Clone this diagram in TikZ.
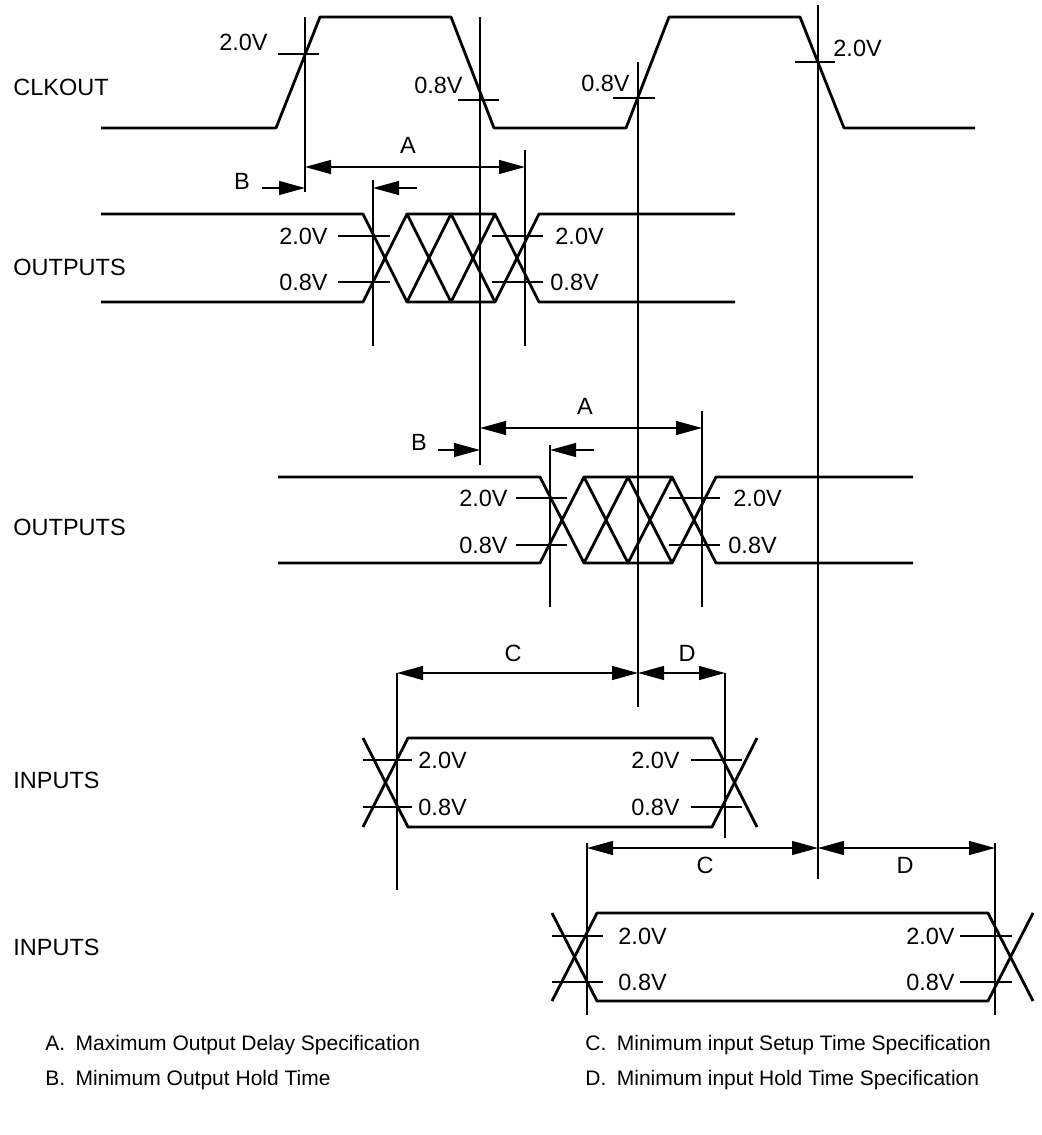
\documentclass[tikz,border=0pt]{standalone}
\usepackage{fontspec}
\setmainfont{Liberation Sans}
\usetikzlibrary{arrows.meta}
\begin{document}
\begin{tikzpicture}[x=.5pt, y=-.5pt, line join=round, line cap=butt,
  >={Triangle[length=13pt,width=7pt]},
  font=\fontsize{11.75}{14}\selectfont,
  wave/.style={line width=1.4pt},
  guide/.style={line width=.6pt},
  dimline/.style={guide,<->},
  lbl/.style={inner sep=0pt},
  legend/.style={inner sep=0pt, anchor=west, font=\fontsize{10.5}{13}\selectfont}]
\useasboundingbox (0,0) rectangle (1042,1135);
% signal names
\node[lbl, anchor=west] (clk) at (13,87) {CLKOUT};
\node[lbl, anchor=west] (outa) at (13,267) {OUTPUTS};
\node[lbl, anchor=west] (outb) at (13,527) {OUTPUTS};
\node[lbl, anchor=west] (ina) at (13,780) {INPUTS};
\node[lbl, anchor=west] (inb) at (13,947) {INPUTS};
% clock
\draw[wave] (101,128) -- (276,128) -- (320,17) -- (451,17) -- (494,128) -- (626,128)
  -- (669,17) -- (800,17) -- (844,128) -- (975,128);
% output buses
\foreach \l/\s/\r/\tp/\bt in {101/363/735/214/302, 278/540/913/477/563}{
  \draw[wave] (\l,\tp) -- (\s,\tp) -- ({\s+44},\bt) -- ({\s+132},\bt) -- ({\s+176},\tp) -- (\r,\tp);
  \draw[wave] (\l,\bt) -- (\s,\bt) -- ({\s+44},\tp) -- ({\s+132},\tp) -- ({\s+176},\bt) -- (\r,\bt);
  \draw[wave] ({\s+44},\tp) -- ({\s+88},\bt) -- ({\s+132},\tp);
  \draw[wave] ({\s+44},\bt) -- ({\s+88},\tp) -- ({\s+132},\bt);
}
% input windows
\foreach \l/\r/\tp/\bt in {363/757/738/827, 552/1033/913/1001}{
  \draw[wave] (\l,\bt) -- ({\l+45},\tp) -- ({\r-45},\tp) -- (\r,\bt);
  \draw[wave] (\l,\tp) -- ({\l+45},\bt) -- ({\r-45},\bt) -- (\r,\tp);
}
% reference lines
\foreach \x/\ya/\yb in {305/17/192, 480/17/465, 638/62/707, 818/5/879, 525/150/346, 373/180/346,
  550/445/607, 702/411/607, 397/673/890, 725/673/838, 587/843/1015, 995/843/1015}
  \draw[guide] (\x,\ya) -- (\x,\yb);
% level ticks
\foreach \xa/\xb/\y in {278/319/54, 458/499/100, 613/655/98, 795/835/62,
  338/390/236, 338/390/282, 492/543/236, 492/543/282,
  516/567/498, 516/567/545, 669/720/498, 669/720/545,
  363/412/760, 363/412/807, 691/742/760, 691/742/807,
  552/603/936, 552/603/982, 960/1012/936, 960/1012/982}
  \draw[guide] (\xa,\y) -- (\xb,\y);
% level labels
\node[lbl, anchor=east] (ca) at (268,42) {2.0V};
\node[lbl, anchor=east] (cb) at (463,85) {0.8V};
\node[lbl, anchor=east] (cc) at (630,83) {0.8V};
\node[lbl, anchor=west] (cd) at (833,48) {2.0V};
\node[lbl, anchor=east] (oa1) at (328,236) {2.0V};
\node[lbl, anchor=east] (oa2) at (328,282) {0.8V};
\node[lbl, anchor=west] (oa3) at (555,236) {2.0V};
\node[lbl, anchor=west] (oa4) at (550,282) {0.8V};
\node[lbl, anchor=east] (ob1) at (508,498) {2.0V};
\node[lbl, anchor=east] (ob2) at (508,545) {0.8V};
\node[lbl, anchor=west] (ob3) at (733,498) {2.0V};
\node[lbl, anchor=west] (ob4) at (728,545) {0.8V};
\node[lbl, anchor=west] (ia1) at (418,760) {2.0V};
\node[lbl, anchor=west] (ia2) at (418,807) {0.8V};
\node[lbl, anchor=east] (ia3) at (680,760) {2.0V};
\node[lbl, anchor=east] (ia4) at (680,807) {0.8V};
\node[lbl, anchor=west] (ib1) at (618,936) {2.0V};
\node[lbl, anchor=west] (ib2) at (618,982) {0.8V};
\node[lbl, anchor=east] (ib3) at (955,936) {2.0V};
\node[lbl, anchor=east] (ib4) at (955,982) {0.8V};
% timing arrows
\draw[dimline] (305,167) -- (525,167);
\draw[guide,->] (262,188) -- (305,188);
\draw[guide,->] (417,188) -- (373,188);
\draw[dimline] (480,428) -- (702,428);
\draw[guide,->] (438,450) -- (480,450);
\draw[guide,->] (594,450) -- (550,450);
\draw[dimline] (397,673) -- (638,673);
\draw[dimline] (638,673) -- (725,673);
\draw[dimline] (587,848) -- (818,848);
\draw[dimline] (818,848) -- (995,848);
\node[lbl] (ta) at (408,145) {A};
\node[lbl] (tb) at (242,181) {B};
\node[lbl] (tc) at (585,406) {A};
\node[lbl] (td) at (419,442) {B};
\node[lbl] (te) at (513,653) {C};
\node[lbl] (tf) at (687,653) {D};
\node[lbl] (tg) at (705,865) {C};
\node[lbl] (th) at (905,865) {D};
% legend
\node[legend] (lga) at (45,1045) {A.\enspace Maximum Output Delay Specification};
\node[legend] (lgb) at (45,1080) {B.\enspace Minimum Output Hold Time};
\node[legend] (lgc) at (585,1045) {C.\enspace Minimum input Setup Time Specification};
\node[legend] (lgd) at (585,1080) {D.\enspace Minimum input Hold Time Specification};
\end{tikzpicture}
\end{document}
